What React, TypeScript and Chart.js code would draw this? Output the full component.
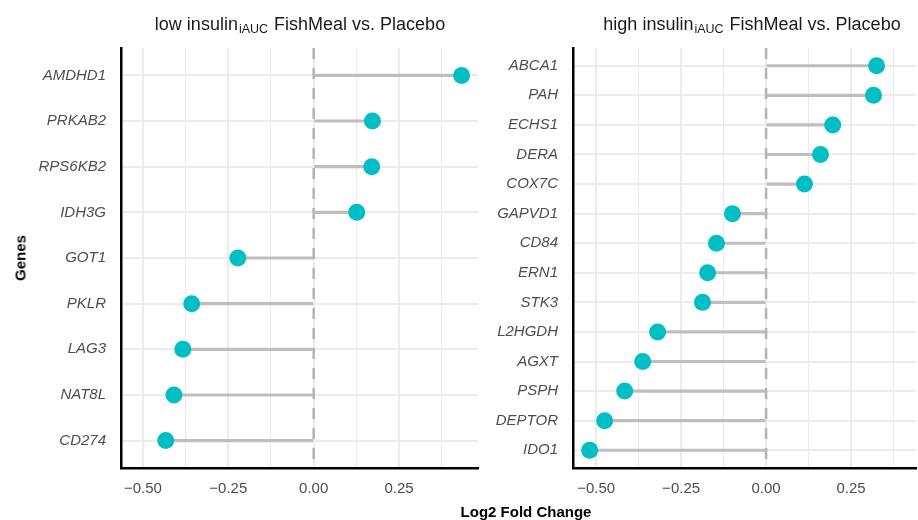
import React, { useEffect, useRef } from "react";
import { Chart, registerables } from "chart.js";
Chart.register(...registerables);

const lowGenes = ["AMDHD1", "PRKAB2", "RPS6KB2", "IDH3G", "GOT1", "PKLR", "LAG3", "NAT8L", "CD274"];
const lowFC = [0.433, 0.172, 0.17, 0.126, -0.222, -0.357, -0.383, -0.409, -0.433];
const highGenes = ["ABCA1", "PAH", "ECHS1", "DERA", "COX7C", "GAPVD1", "CD84", "ERN1", "STK3", "L2HGDH", "AGXT", "PSPH", "DEPTOR", "IDO1"];
const highFC = [0.325, 0.316, 0.196, 0.16, 0.113, -0.099, -0.146, -0.172, -0.187, -0.319, -0.363, -0.416, -0.475, -0.519];
const xMajorTicks = [-0.5, -0.25, 0, 0.25];
const xMinorTicks = [-0.375, -0.125, 0.125, 0.375];
const titleParts = { pre: "low insulin", sub: "iAUC", post: " FishMeal vs. Placebo" };
const titleParts2 = { pre: "high insulin", sub: "iAUC", post: " FishMeal vs. Placebo" };
const xTitle = "Log2 Fold Change";
const yTitle = "Genes";

const FONT = "'Liberation Sans', Arial, Helvetica, sans-serif";
const fmt = (v: number) => (v < 0 ? "\u2212" : "") + Math.abs(v).toFixed(2);

type PanelProps = {
  genes: string[];
  values: number[];
  xMin: number;
  xMax: number;
  width: number;
  yWidth: number;
  padRight: number;
  title: { pre: string; sub: string; post: string };
  titleX: number;
};

function Panel(p: PanelProps) {
  const ref = useRef<HTMLCanvasElement>(null);
  useEffect(() => {
    const n = p.genes.length;
    const titlePlugin = {
      id: "subTitle",
      afterDraw(chart: any) {
        const ctx = chart.ctx;
        ctx.save();
        ctx.fillStyle = "#1a1a1a";
        ctx.textBaseline = "alphabetic";
        ctx.textAlign = "left";
        const big = `18px ${FONT}`;
        const small = `12.5px ${FONT}`;
        ctx.font = big;
        const w1 = ctx.measureText(p.title.pre).width;
        const w3 = ctx.measureText(p.title.post).width;
        ctx.font = small;
        const w2 = ctx.measureText(p.title.sub).width + 2;
        const total = w1 + w2 + w3;
        let x = p.titleX - total / 2;
        const y = 30;
        ctx.font = big;
        ctx.fillText(p.title.pre, x, y);
        x += w1 + 1;
        ctx.font = small;
        ctx.fillText(p.title.sub, x, y + 3);
        x += w2 - 1;
        ctx.font = big;
        ctx.fillText(p.title.post, x, y);
        ctx.restore();
      },
    };
    const chart = new Chart(ref.current!, {
      data: {
        datasets: [
          {
            type: "line",
            data: [
              { x: 0, y: -0.6 },
              { x: 0, y: n - 0.4 },
            ],
            borderColor: "#b3b3b3",
            borderWidth: 2.5,
            borderDash: [11, 9],
            pointRadius: 0,
            order: 3,
          } as any,
          {
            type: "bar",
            indexAxis: "y",
            data: p.values.map((v, i) => ({ x: [0, v], y: i })),
            backgroundColor: "#bebebe",
            borderWidth: 0,
            barThickness: 2.5,
            order: 2,
          } as any,
          {
            type: "scatter",
            data: p.values.map((v, i) => ({ x: v, y: i })),
            backgroundColor: "#00BFC4",
            borderWidth: 0,
            pointRadius: 8.5,
            order: 1,
          } as any,
        ],
      },
      options: {
        responsive: false,
        animation: false,
        devicePixelRatio: 1,
        layout: { autoPadding: false, padding: { top: 48, right: p.padRight, left: 0, bottom: 0 } },
        plugins: { legend: { display: false }, tooltip: { enabled: false }, title: { display: false } },
        scales: {
          x: {
            type: "linear",
            offset: false,
            min: p.xMin,
            max: p.xMax,
            afterBuildTicks: (s: any) => {
              s.ticks = [...xMajorTicks, ...xMinorTicks].sort((a, b) => a - b).map((v) => ({ value: v }));
            },
            afterFit: (s: any) => {
              s.height = 52;
              s.paddingLeft = 0;
              s.paddingRight = 0;
            },
            ticks: {
              autoSkip: false,
              maxRotation: 0,
              padding: 12,
              color: "#4d4d4d",
              font: { family: FONT, size: 15 },
              callback: (v: any) => (xMajorTicks.includes(Number(v)) ? fmt(Number(v)) : ""),
            },
            grid: {
              offset: false,
              drawTicks: false,
              color: "#ebebeb",
              lineWidth: (c: any) => (xMajorTicks.includes(c.tick?.value) ? 2 : 1.1),
            },
            border: { display: true, color: "#000000", width: 2.5 },
          },
          y: {
            type: "linear",
            offset: false,
            min: -0.6,
            max: n - 0.4,
            reverse: true,
            afterBuildTicks: (s: any) => {
              s.ticks = p.genes.map((_, i) => ({ value: i }));
            },
            afterFit: (s: any) => {
              s.width = p.yWidth;
              s.paddingTop = 0;
              s.paddingBottom = 0;
            },
            ticks: {
              autoSkip: false,
              padding: 15,
              color: "#4d4d4d",
              font: { family: FONT, size: 15, style: "italic" },
              callback: (v: any) => p.genes[Number(v)] ?? "",
            },
            grid: { offset: false, drawTicks: false, color: "#ebebeb", lineWidth: 2 },
            border: { display: true, color: "#000000", width: 2.5 },
          },
        },
      } as any,
      plugins: [titlePlugin],
    });
    return () => chart.destroy();
  }, []);
  return <canvas ref={ref} width={p.width} height={520} style={{ display: "block", width: p.width, height: 520 }} />;
}

export default function App() {
  return (
    <div style={{ position: "absolute", left: 0, top: 0, width: 918, height: 520, background: "#fff", overflow: "hidden", fontFamily: FONT }}>
      <div style={{ position: "absolute", left: 0, top: 0 }}>
        <Panel genes={lowGenes} values={lowFC} xMin={-0.564} xMax={0.481} width={492} yWidth={121} padRight={14} title={titleParts} titleX={300} />
      </div>
      <div style={{ position: "absolute", left: 492, top: 0 }}>
        <Panel genes={highGenes} values={highFC} xMin={-0.568} xMax={0.441} width={426} yWidth={81} padRight={2} title={titleParts2} titleX={260} />
      </div>
      <div
        style={{
          position: "absolute",
          left: 20,
          top: 258,
          transform: "translate(-50%, -50%) rotate(-90deg)",
          fontWeight: "bold",
          fontSize: 15,
          color: "#000",
          whiteSpace: "nowrap",
          lineHeight: "17px",
        }}
      >
        {yTitle}
      </div>
      <div
        style={{
          position: "absolute",
          left: 526,
          top: 511,
          transform: "translate(-50%, -50%)",
          fontWeight: "bold",
          fontSize: 15,
          color: "#000",
          whiteSpace: "nowrap",
          lineHeight: "17px",
        }}
      >
        {xTitle}
      </div>
    </div>
  );
}
